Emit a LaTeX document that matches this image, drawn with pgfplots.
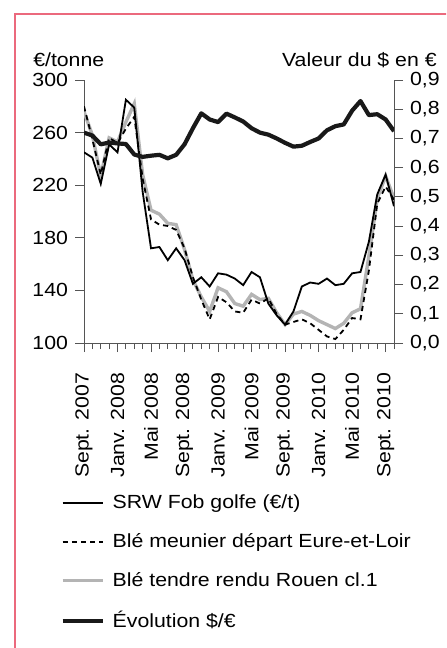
\documentclass[border=0pt]{standalone}
\usepackage{fontspec}
\setmainfont[FakeStretch=1.12]{Liberation Sans}
\usepackage{pgfplots}
\pgfplotsset{compat=1.18}
\usepackage{pgfplotstable}

% mois depuis sept. 2007 ; prix en euros/t ; valeur du dollar en euros
\pgfplotstableread{
m  srw meu rou usd
0  245 280 276 0.720
1  241 255 258 0.710
2  221 228 227 0.680
3  251 256 256 0.686
4  245 252 253 0.683
5  285 263 268 0.681
6  279 272 282 0.645
7  215 225 228 0.637
8  172 194 201 0.641
9  173 190 198 0.644
10 163 189 191 0.632
11 172 186 190 0.644
12 163 172 171 0.680
13 145 150 148 0.735
14 150 133 135 0.786
15 143 118 124 0.765
16 153 135 142 0.756
17 152 131 139 0.785
18 149 124 130 0.772
19 144 123 128 0.758
20 154 133 137 0.735
21 150 130 133 0.720
22 130 134 134 0.713
23 121 122 123 0.700
24 114 114 114 0.685
25 124 116 122 0.672
26 143 118 124 0.675
27 146 115 121 0.688
28 145 110 117 0.700
29 149 105 114 0.728
30 144 103 111 0.742
31 145 110 115 0.748
32 153 119 123 0.795
33 154 118 126 0.828
34 177 155 166 0.780
35 213 206 210 0.783
36 228 219 227 0.765
37 204 209 210 0.725
}\prix

\definecolor{cadre}{RGB}{235,105,125}
\definecolor{grisclair}{RGB}{180,180,180}
\definecolor{axe}{RGB}{85,85,85}

\begin{document}
\begin{tikzpicture}[font=\fontsize{9.5}{11.5}\selectfont]
\path[use as bounding box] (0,0) rectangle (223pt,-324pt);
\clip (0,0) rectangle (223pt,-324pt);
\draw[cadre, line width=0.6pt] (7.5pt,-7pt) rectangle (240pt,-340pt);

\pgfplotsset{
  commun/.style={
    scale only axis, width=155pt, height=131.5pt,
    at={(42pt,-171.5pt)}, anchor=south west,
    xmin=0, xmax=37, clip mode=individual,
    axis line style={axe, line width=0.5pt},
    every tick/.style={axe, line width=0.5pt},
    tick align=outside,
    major tick length=4.5pt, minor tick length=3pt,
    /pgf/number format/assume math mode=true,
  },
  srw/.style={black, line width=0.9pt},
  meu/.style={black, line width=0.9pt, dash pattern=on 2.6pt off 2pt},
  rou/.style={grisclair, line width=1.7pt},
  usd/.style={black!90, line width=2.1pt, line join=round},
}

\begin{axis}[commun,
  axis x line*=bottom, axis y line*=left,
  ymin=100, ymax=300, ytick={100,140,180,220,260,300},
  xtick={0,4,...,36}, minor xtick={0,...,37},
  xticklabels={Sept. 2007, Janv. 2008, Mai 2008, Sept. 2008, Janv. 2009,
    Mai 2009, Sept. 2009, Janv. 2010, Mai 2010, Sept. 2010},
  xticklabel style={rotate=90, anchor=east},
  xticklabel shift=7pt,
  legend image code/.code={\draw[#1] (0pt,0pt) -- (20pt,0pt);},
  legend style={at={(axis description cs:-0.077,-0.559)}, anchor=north west,
    draw=none, fill=none, inner sep=0pt, row sep=7pt,
    cells={anchor=west}, column sep=2pt},
  legend cell align=left,
]
\addlegendimage{srw}
\addlegendentry{SRW Fob golfe (€/t)}
\addlegendimage{meu}
\addlegendentry{Blé meunier départ Eure-et-Loir}
\addlegendimage{rou}
\addlegendentry{Blé tendre rendu Rouen cl.1}
\addlegendimage{usd}
\addlegendentry{Évolution \$/€}
\addplot[rou, forget plot] table[x=m, y=rou] {\prix};
\addplot[meu, forget plot] table[x=m, y=meu] {\prix};
\addplot[srw, forget plot] table[x=m, y=srw] {\prix};
\node[anchor=west, inner sep=0pt] at (axis description cs:-0.165,1.076) {€/tonne};
\node[anchor=east, inner sep=0pt] at (axis description cs:1.139,1.076) {Valeur du \$ en €};
\end{axis}

\begin{axis}[commun,
  axis x line=none, axis y line*=right,
  ymin=0, ymax=0.9, ytick={0,0.1,0.2,0.3,0.4,0.5,0.6,0.7,0.8,0.9},
  yticklabel style={/pgf/number format/.cd, fixed, fixed zerofill, precision=1, use comma},
]
\addplot[usd] table[x=m, y=usd] {\prix};
\end{axis}
\end{tikzpicture}
\end{document}
